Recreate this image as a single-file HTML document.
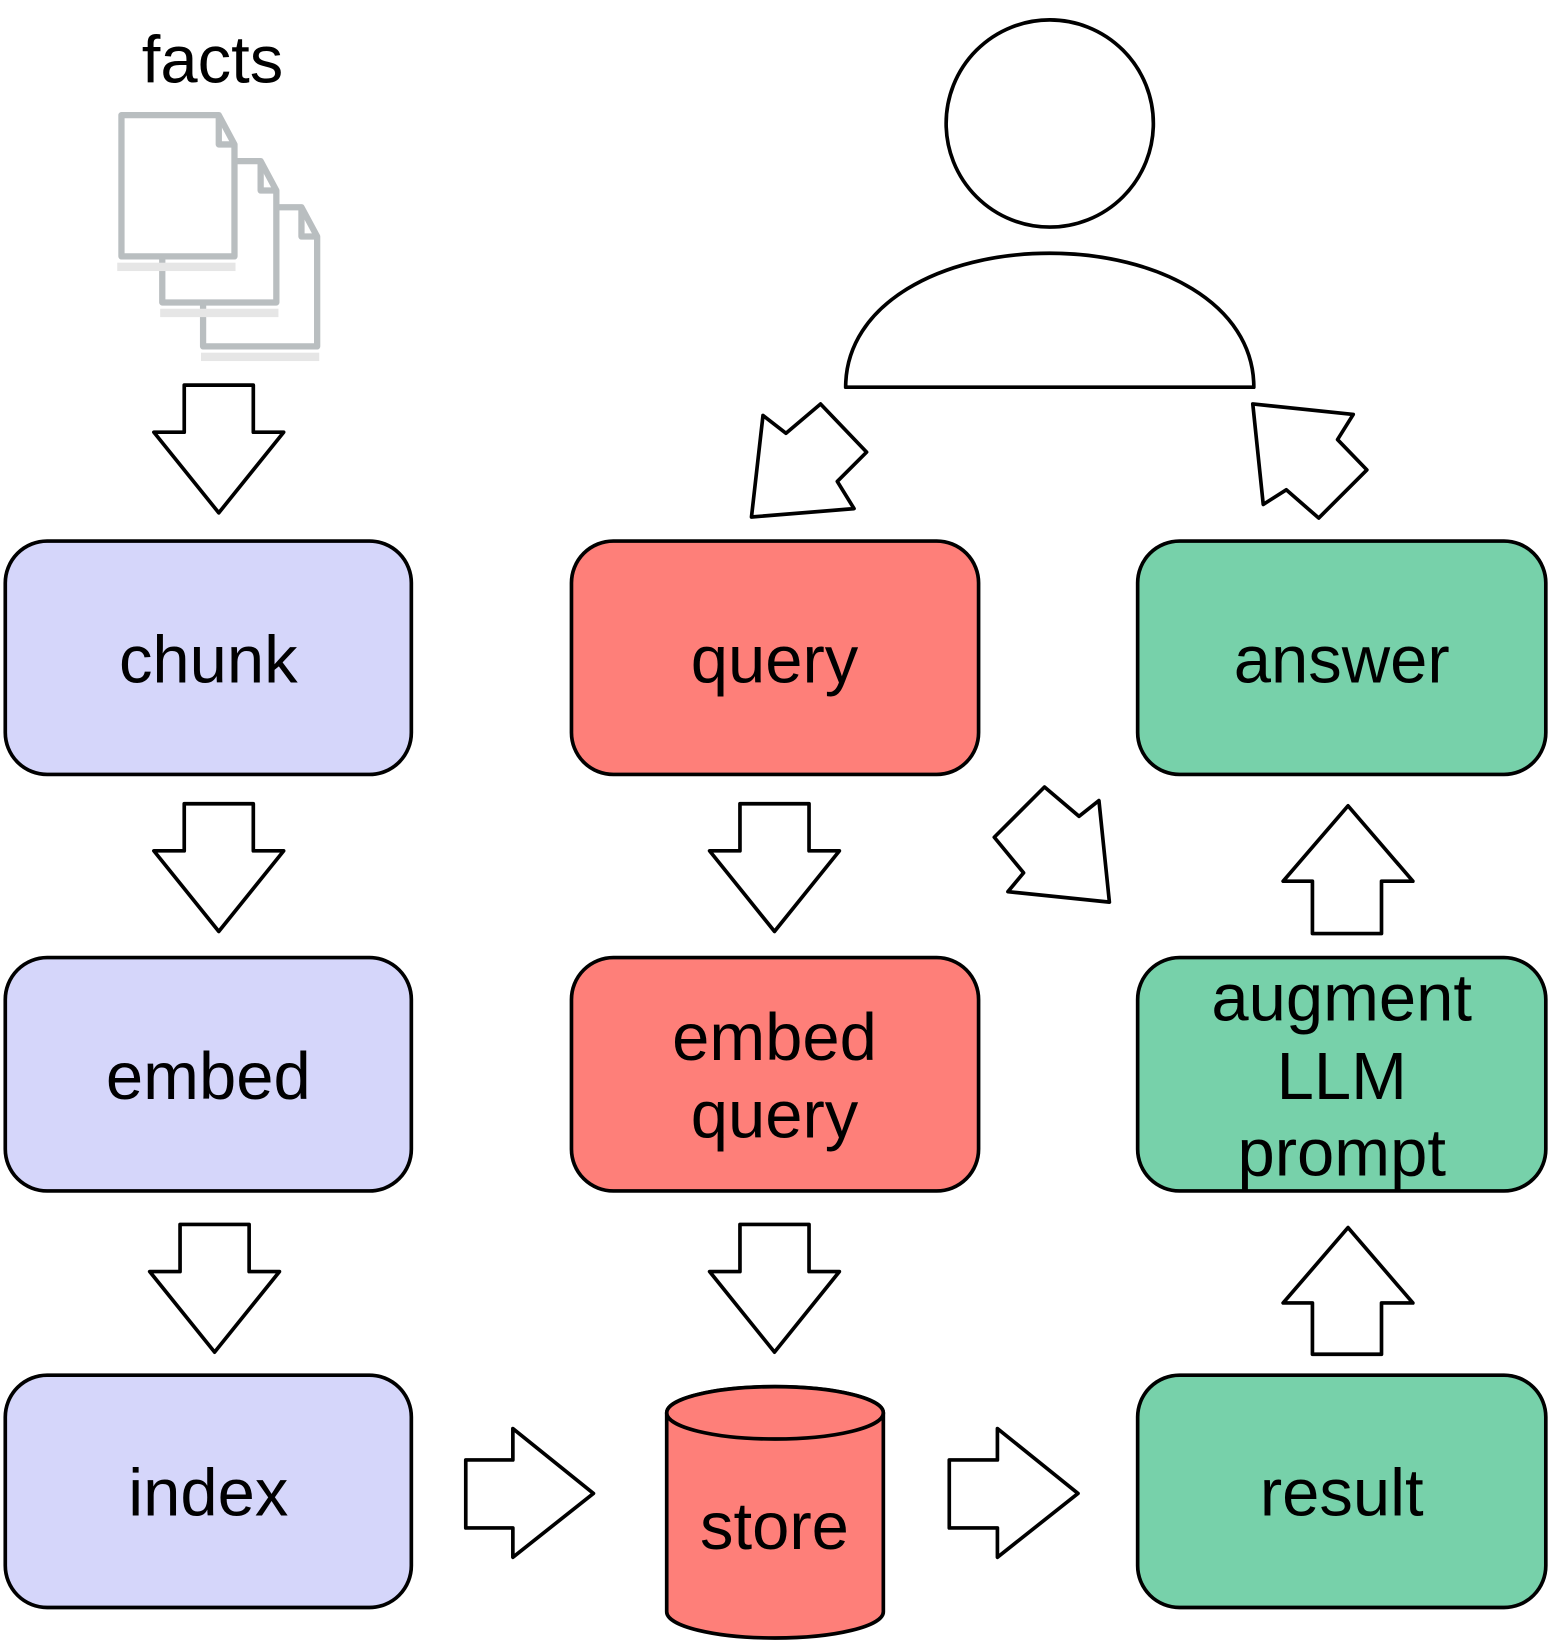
<!DOCTYPE html>
<html><head><meta charset="utf-8"><style>
html,body{margin:0;padding:0;background:#fff}
svg{display:block}
text{font-family:"Liberation Sans",Arial,sans-serif;font-size:64px;fill:#000;text-anchor:middle}
</style></head><body>
<svg width="1549" height="1641" viewBox="0 0 1480 1568" xmlns="http://www.w3.org/2000/svg">
<g stroke-linejoin="round">
<!-- docs -->
<g fill="#fff" stroke="#b9bec0" stroke-width="6">
<rect x="192" y="337" width="113" height="8" fill="#e6e6e6" stroke="none"/>
<path d="M194,198 H288 L303,226 V331 H194 Z"/>
<path d="M288,198 V226 H303" fill="none"/>
<rect x="153" y="295" width="113" height="8" fill="#e6e6e6" stroke="none"/>
<path d="M155,154 H249 L264,182 V289 H155 Z"/>
<path d="M249,154 V182 H264" fill="none"/>
<rect x="112" y="251" width="113" height="8" fill="#e6e6e6" stroke="none"/>
<path d="M116,110 H209 L224,138 V245 H116 Z"/>
<path d="M209,110 V138 H224" fill="none"/>
</g>
<text x="203" y="79">facts</text>

<!-- person -->
<g fill="#fff" stroke="#000" stroke-width="3.5">
<circle cx="1003" cy="118" r="99"/>
<path d="M808,370 C808,290 900,242 1003,242 C1106,242 1198,290 1198,370 Z"/>
</g>

<!-- boxes -->
<g stroke="#000" stroke-width="3.5">
<rect x="5" y="517" width="388" height="223" rx="40" fill="#d5d6fa"/>
<rect x="5" y="915" width="388" height="223" rx="40" fill="#d5d6fa"/>
<rect x="5" y="1314" width="388" height="222" rx="40" fill="#d5d6fa"/>
<rect x="546" y="517" width="389" height="223" rx="40" fill="#fe7f79"/>
<rect x="546" y="915" width="389" height="223" rx="40" fill="#fe7f79"/>
<rect x="1087" y="517" width="390" height="223" rx="40" fill="#77d1aa"/>
<rect x="1087" y="915" width="390" height="223" rx="40" fill="#77d1aa"/>
<rect x="1087" y="1314" width="390" height="222" rx="40" fill="#77d1aa"/>
<path d="M637,1350 V1540 A103,25 0 0 0 844,1540 V1350 A103,25 0 0 0 637,1350 Z" fill="#fe7f79"/>
<ellipse cx="740.5" cy="1350" rx="103.5" ry="25" fill="#fe7f79"/>
</g>
<text x="199" y="652">chunk</text>
<text x="199" y="1050">embed</text>
<text x="199" y="1448">index</text>
<text x="740" y="652">query</text>
<text x="740" y="1013">embed</text>
<text x="740" y="1087">query</text>
<text x="740" y="1480">store</text>
<text x="1282" y="652">answer</text>
<text x="1282" y="975">augment</text>
<text x="1282" y="1050">LLM</text>
<text x="1282" y="1123">prompt</text>
<text x="1282" y="1448">result</text>

<!-- arrows -->
<g fill="#fff" stroke="#000" stroke-width="3.5">
<path d="M176,368 H242 V413 H271 L209,490 L147,413 H176 Z"/>
<path d="M176,768 H242 V813 H271 L209,890 L147,813 H176 Z"/>
<path d="M172,1170 H238 V1215 H267 L205,1292 L143,1215 H172 Z"/>
<path d="M707,768 H773 V813 H802 L740,890 L678,813 H707 Z"/>
<path d="M707,1170 H773 V1215 H802 L740,1292 L678,1215 H707 Z"/>
<path d="M1254,892 H1320 V842 H1350 L1288,770 L1226,842 H1254 Z"/>
<path d="M1254,1294 H1320 V1245 H1350 L1288,1173 L1226,1245 H1254 Z"/>
<path d="M445,1395 H490 V1365 L567,1427 L490,1488 V1460 H445 Z"/>
<path d="M907,1395 H953 V1365 L1030,1427 L953,1488 V1460 H907 Z"/>
<path d="M718,494 L729,397 L751,414 L784,386 L828,432 L800,460 L816,486 Z"/>
<path d="M1197,386 L1293,396 L1278,420 L1306,449 L1260,495 L1229,468 L1207,482 Z"/>
<path d="M1060,862 L963,852 L978,834 L950,800 L998,752 L1031,780 L1050,765 Z"/>
</g>
</g>
</svg>
</body></html>
